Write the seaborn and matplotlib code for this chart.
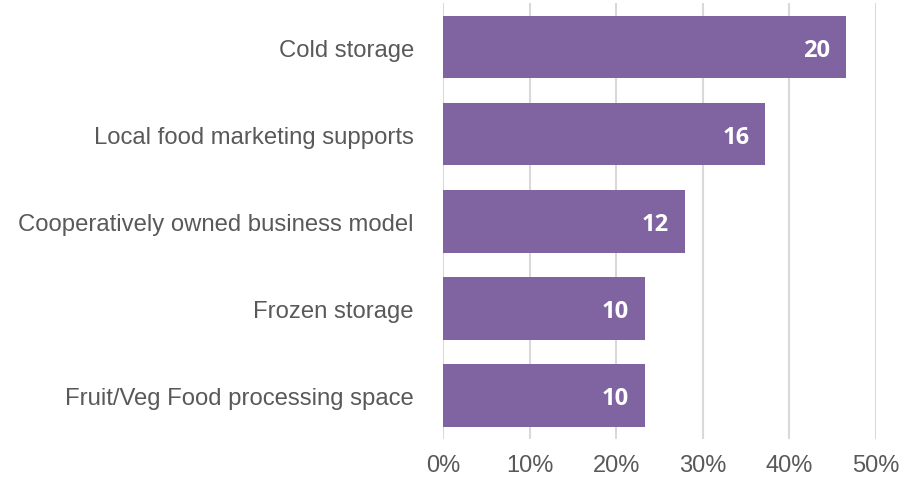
import pandas as pd
import matplotlib.pyplot as plt
import seaborn as sns
from matplotlib.ticker import PercentFormatter

# Values
categories = ['Cold storage', 'Local food marketing supports',
              'Cooperatively owned business model', 'Frozen storage',
              'Fruit/Veg Food processing space']
percents = [46.5, 37.2, 27.9, 23.3, 23.3]
counts = [20, 16, 12, 10, 10]
x_ticks = [0, 10, 20, 30, 40, 50]

df = pd.DataFrame({'Category': categories, 'Percent': percents, 'Count': counts})

sns.set_style('white')
plt.rcParams['font.family'] = ['Liberation Sans', 'DejaVu Sans']

fig = plt.figure(figsize=(9.23, 4.85), dpi=100)
ax = fig.add_axes([0.48, 0.0928, 0.469, 0.898])

sns.barplot(data=df, x='Percent', y='Category', orient='h', color='#8064A2',
            saturation=1, width=0.72, linewidth=0, ax=ax, zorder=3)

# count labels inside bar ends
for i, row in df.iterrows():
    ax.text(row['Percent'] - 1.8, i, str(row['Count']), ha='right',
            va='center_baseline', color='white', fontsize=17, fontweight='bold',
            family=['Open Sans', 'DejaVu Sans'], zorder=4)

ax.set_xlim(0, 50)
ax.set_ylim(4.5, -0.5)
ax.set_xticks(x_ticks)
ax.xaxis.set_major_formatter(PercentFormatter(decimals=0))
ax.grid(axis='x', color='#D9D9D9', linewidth=1.5, zorder=0)
ax.grid(axis='y', visible=False)
for s in ax.spines.values():
    s.set_visible(False)
ax.tick_params(axis='x', length=0, pad=11, labelsize=17, labelcolor='#595959')
ax.tick_params(axis='y', length=0, pad=21, labelsize=17.2, labelcolor='#595959')
ax.set_xlabel('')
ax.set_ylabel('')

fig.savefig('out.png', dpi=100)
